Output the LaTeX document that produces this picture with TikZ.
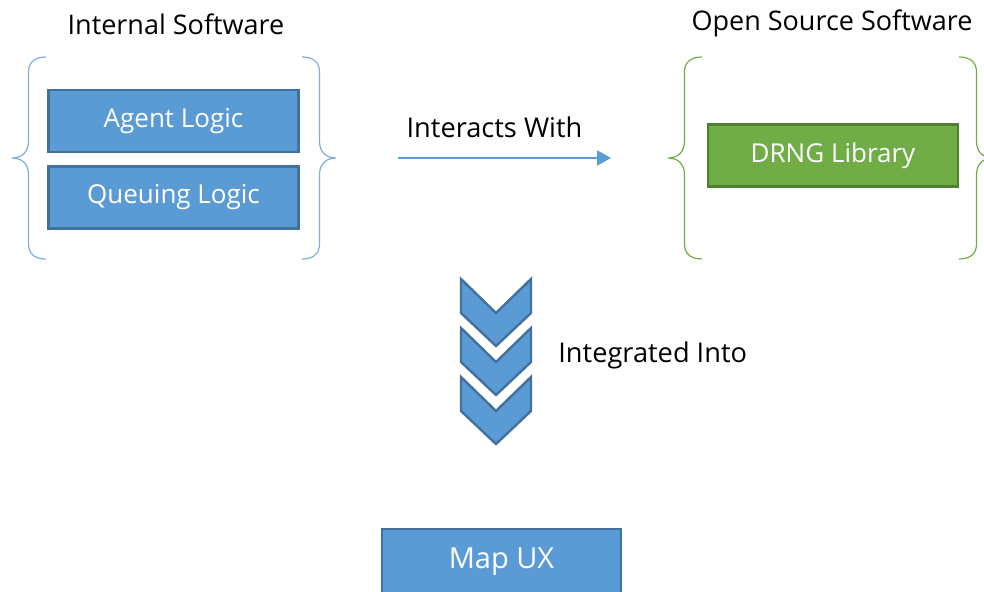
\documentclass[tikz,border=0pt]{standalone}
\usepackage{fontspec}
\setmainfont{Open Sans}
\usetikzlibrary{arrows.meta, positioning}
\definecolor{swblue}{HTML}{5B9BD5}
\definecolor{swblueedge}{HTML}{41719C}
\definecolor{swgreen}{HTML}{70AD47}
\definecolor{swgreenedge}{HTML}{507E32}
\tikzset{
  modbox/.style={rectangle, draw=swblueedge, fill=swblue, line width=1.2pt,
              text=white, font=\fontsize{13}{15}\selectfont,
              minimum width=125pt, minimum height=31pt, inner sep=0pt},
  libbox/.style={modbox, draw=swgreenedge, fill=swgreen},
  grouptitle/.style={font=\fontsize{13.5}{16}\selectfont, text=black, inner sep=0pt},
  flowlbl/.style={font=\fontsize{13.6}{16}\selectfont, text=black, inner sep=0pt},
  flow/.style={-{Triangle[length=7pt, width=7.5pt]}, draw=swblue, line width=1pt},
  chev/.style={draw=swblueedge, fill=swblue, line width=1.2pt, line join=miter},
  % curly bracket, tip at the origin, opening to the right
  curly/.pic={
    \draw[pic actions] (34,-101) .. controls (23,-101) and (16.5,-96) .. (16.5,-86)
      -- (16.5,-17) .. controls (16.5,-6) and (10,0) .. (0,0)
      .. controls (10,0) and (16.5,6) .. (16.5,17)
      -- (16.5,86) .. controls (16.5,96) and (23,101) .. (34,101);
  },
}

\begin{document}
\begin{tikzpicture}[x=0.5pt, y=-0.5pt]
  \clip (0,0) rectangle (984,592);
  \fill[white] (0,0) rectangle (984,592);

  % internal side
  \node[grouptitle] (inttitle) at (176,24) {Internal Software};
  \node[modbox] (agent) at (173.5,121) {Agent Logic};
  \node[modbox, below=6pt of agent] (queue) {Queuing Logic};
  \pic[draw=swblue!80, line width=0.6pt] at (12,158) {curly};
  \pic[draw=swblue!80, line width=0.6pt, xscale=-1] at (336,158) {curly};

  % open source side
  \node[grouptitle] (osstitle) at (832,23) {Open Source Software};
  \node[libbox] (drng) at (833,155.5) {DRNG Library};
  \pic[draw=swgreen, line width=0.6pt] at (668,158) {curly};
  \pic[draw=swgreen, line width=0.6pt, xscale=-1] at (993,158) {curly};

  % interaction arrow
  \coordinate (flowstart) at (398,158);
  \coordinate (flowend) at (611,158);
  \draw[flow] (flowstart) -- node[flowlbl, midway, yshift=15.5pt, xshift=-5pt] (interlbl) {Interacts With} (flowend);

  % chevrons down to the map
  \foreach \k in {0,1,2}
    \draw[chev, shift={(0,49*\k)}] (461,279) -- (496,313) -- (531,279)
      -- (531,313) -- (496,346) -- (461,313) -- cycle;
  \node[flowlbl, anchor=west] (intolbl) at (558,355) {Integrated Into};

  \node[modbox, minimum width=119.5pt, minimum height=33pt,
        font=\fontsize{14.5}{17}\selectfont] (mapux) at (501.5,562) {Map UX};
\end{tikzpicture}
\end{document}
